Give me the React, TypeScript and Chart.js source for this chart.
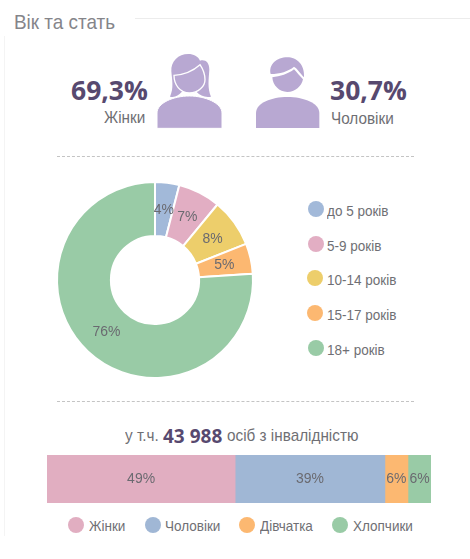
import React, { useEffect, useRef } from "react";
import { Chart, registerables } from "chart.js";

Chart.register(...registerables);

const title = "Вік та стать";
const womenShare = "69,3%";
const menShare = "30,7%";
const womenLabel = "Жінки";
const menLabel = "Чоловіки";

const ageLabels = ["до 5 років", "5-9 років", "10-14 років", "15-17 років", "18+ років"];
const ageValues = [4, 7, 8, 5, 76];
const ageColors = ["#A2B9D9", "#E2AEC3", "#EDCE6B", "#FCB871", "#99CBA6"];

const disabilityLabels = ["Жінки", "Чоловіки", "Дівчатка", "Хлопчики"];
const disabilityValues = [49, 39, 6, 6];
const disabilityColors = ["#E1AEC1", "#A0B7D5", "#FCB871", "#99CBA6"];

const FONT = '"Liberation Sans", Arial, sans-serif';
const TEXT = "#6f6f74";
const NARROW = 0.9;

const percentLabels = {
  id: "percentLabels",
  afterDatasetsDraw(chart: any) {
    const { ctx } = chart;
    chart.data.datasets.forEach((ds: any, di: number) => {
      chart.getDatasetMeta(di).data.forEach((el: any, i: number) => {
        const pos = chart.config.type === "bar" ? el.getCenterPoint() : el.tooltipPosition();
        ctx.save();
        ctx.translate(pos.x, pos.y);
        ctx.scale(NARROW, 1);
        ctx.font = `15.5px ${FONT}`;
        ctx.fillStyle = "#6a6a70";
        ctx.textAlign = "center";
        ctx.textBaseline = "middle";
        ctx.fillText(`${ds.data[i]}%`, 0, 0);
        ctx.restore();
      });
    });
  },
};

const abs = (left: number, top: number, extra: React.CSSProperties = {}): React.CSSProperties => ({
  position: "absolute",
  left,
  top,
  whiteSpace: "nowrap",
  ...extra,
});

const narrow = (left: number, top: number, fontSize: number, extra: React.CSSProperties = {}) =>
  abs(left, top, {
    fontSize,
    lineHeight: `${Math.round(fontSize * 1.3)}px`,
    transform: `scaleX(${NARROW})`,
    transformOrigin: "left center",
    ...extra,
  });

function People() {
  const c = "#B8A8D2";
  return (
    <svg style={abs(150, 48)} width="180" height="85" viewBox="0 0 540 255">
      <path fill={c} d="M60 146 C72 120 66 95 64 70 C62 40 85 18 115 18 C130 18 145 25 150 38 C165 33 178 42 178 65 C176 95 172 120 183 146 C165 150 150 142 140 132 L95 132 C85 142 75 150 60 146 Z" />
      <path fill={c} stroke="#fff" strokeWidth="4" d="M72 82 C100 80 130 68 150 50 C160 65 165 80 165 95 C165 115 145 135 118 135 C90 135 72 110 72 82 Z" />
      <path fill={c} stroke="#fff" strokeWidth="3" d="M21 241 L21 195 C21 165 70 144 118 144 C165 144 216 165 216 195 L216 241 Z" />
      <path fill={c} d="M362 78 C355 50 380 28 412 28 C440 28 465 50 462 88 C450 75 440 60 432 56 C415 70 390 78 362 78 Z" />
      <path fill={c} d="M367 88 C390 85 415 78 432 64 C440 72 450 85 459 94 C455 115 435 132 412 132 C388 132 368 112 367 88 Z" />
      <path fill={c} d="M318 240 L318 195 C318 165 365 147 412 147 C460 147 508 165 508 195 L508 240 Z" />
    </svg>
  );
}

function Dot({ color, left, top }: { color: string; left: number; top: number }) {
  return <div style={abs(left, top, { width: 16, height: 16, borderRadius: "50%", background: color })} />;
}

export default function App() {
  const donutRef = useRef<HTMLCanvasElement>(null);
  const barRef = useRef<HTMLCanvasElement>(null);

  useEffect(() => {
    document.body.style.margin = "0";
    document.body.style.background = "#fff";
    const donut = new Chart(donutRef.current!, {
      type: "doughnut",
      data: {
        labels: ageLabels,
        datasets: [{ data: ageValues, backgroundColor: ageColors, borderColor: "#fff", borderWidth: 2 }],
      },
      options: {
        animation: false,
        responsive: false,
        cutout: "45%",
        radius: 98,
        layout: { padding: 0 },
        plugins: { legend: { display: false }, tooltip: { enabled: false } },
      } as any,
      plugins: [percentLabels],
    });
    const bar = new Chart(barRef.current!, {
      type: "bar",
      data: {
        labels: [""],
        datasets: disabilityLabels.map((label, i) => ({
          label,
          data: [disabilityValues[i]],
          backgroundColor: disabilityColors[i],
          barPercentage: 1,
          categoryPercentage: 1,
          borderWidth: 0,
        })),
      },
      options: {
        indexAxis: "y",
        animation: false,
        responsive: false,
        layout: { padding: 0 },
        scales: {
          x: { stacked: true, display: false, min: 0, max: 100 },
          y: { stacked: true, display: false },
        },
        plugins: { legend: { display: false }, tooltip: { enabled: false } },
      } as any,
      plugins: [percentLabels],
    });
    return () => {
      donut.destroy();
      bar.destroy();
    };
  }, []);

  const ageLegendTop = [201, 236, 270, 305, 340];
  const ageDotLeft = [308, 308, 307, 307, 308];
  const barLegendDot = [68, 145, 239, 332];
  const barLegendText = [89, 165, 260, 353];

  return (
    <div style={{ position: "relative", width: 470, height: 559, overflow: "hidden", fontFamily: FONT, color: TEXT, background: "#fff", filter: "blur(0.35px)" }}>
      <div style={narrow(14, 8, 21, { color: "#85858a" })}>{title}</div>
      <div style={abs(135, 18, { width: 335, height: 1, background: "#ececec" })} />
      <div style={abs(4, 36, { width: 1, height: 500, background: "#f4f4f4" })} />

      <div style={abs(71, 73, { fontFamily: '"Open Sans", sans-serif', fontWeight: 700, fontSize: 26.5, lineHeight: "34px", color: "#57496f" })}>{womenShare}</div>
      <div style={narrow(104, 107, 17)}>{womenLabel}</div>
      <People />
      <div style={abs(330, 73, { fontFamily: '"Open Sans", sans-serif', fontWeight: 700, fontSize: 26.5, lineHeight: "34px", color: "#57496f" })}>{menShare}</div>
      <div style={narrow(331, 108, 17)}>{menLabel}</div>

      <div style={abs(57, 156, { width: 357, height: 0, borderTop: "1px dashed #c4c4c4" })} />

      <canvas ref={donutRef} width={210} height={210} style={abs(50, 175, { display: "block" })} />
      {ageLabels.map((label, i) => (
        <React.Fragment key={label}>
          <Dot color={ageColors[i]} left={ageDotLeft[i]} top={ageLegendTop[i]} />
          <div style={narrow(327, ageLegendTop[i], 15)}>{label}</div>
        </React.Fragment>
      ))}

      <div style={abs(57, 401, { width: 357, height: 0, borderTop: "1px dashed #c4c4c4" })} />

      <div style={narrow(125, 425, 17)}>у т.ч.</div>
      <div style={abs(163, 423, { fontFamily: '"Open Sans", sans-serif', fontWeight: 700, fontSize: 19, lineHeight: "26px", color: "#57496f" })}>43 988</div>
      <div style={narrow(227, 425, 17)}>осіб з інвалідністю</div>

      <canvas ref={barRef} width={384} height={48} style={abs(47, 455, { display: "block" })} />
      {disabilityLabels.map((label, i) => (
        <React.Fragment key={label}>
          <Dot color={disabilityColors[i]} left={barLegendDot[i]} top={517} />
          <div style={narrow(barLegendText[i], 516, 15)}>{label}</div>
        </React.Fragment>
      ))}
    </div>
  );
}
